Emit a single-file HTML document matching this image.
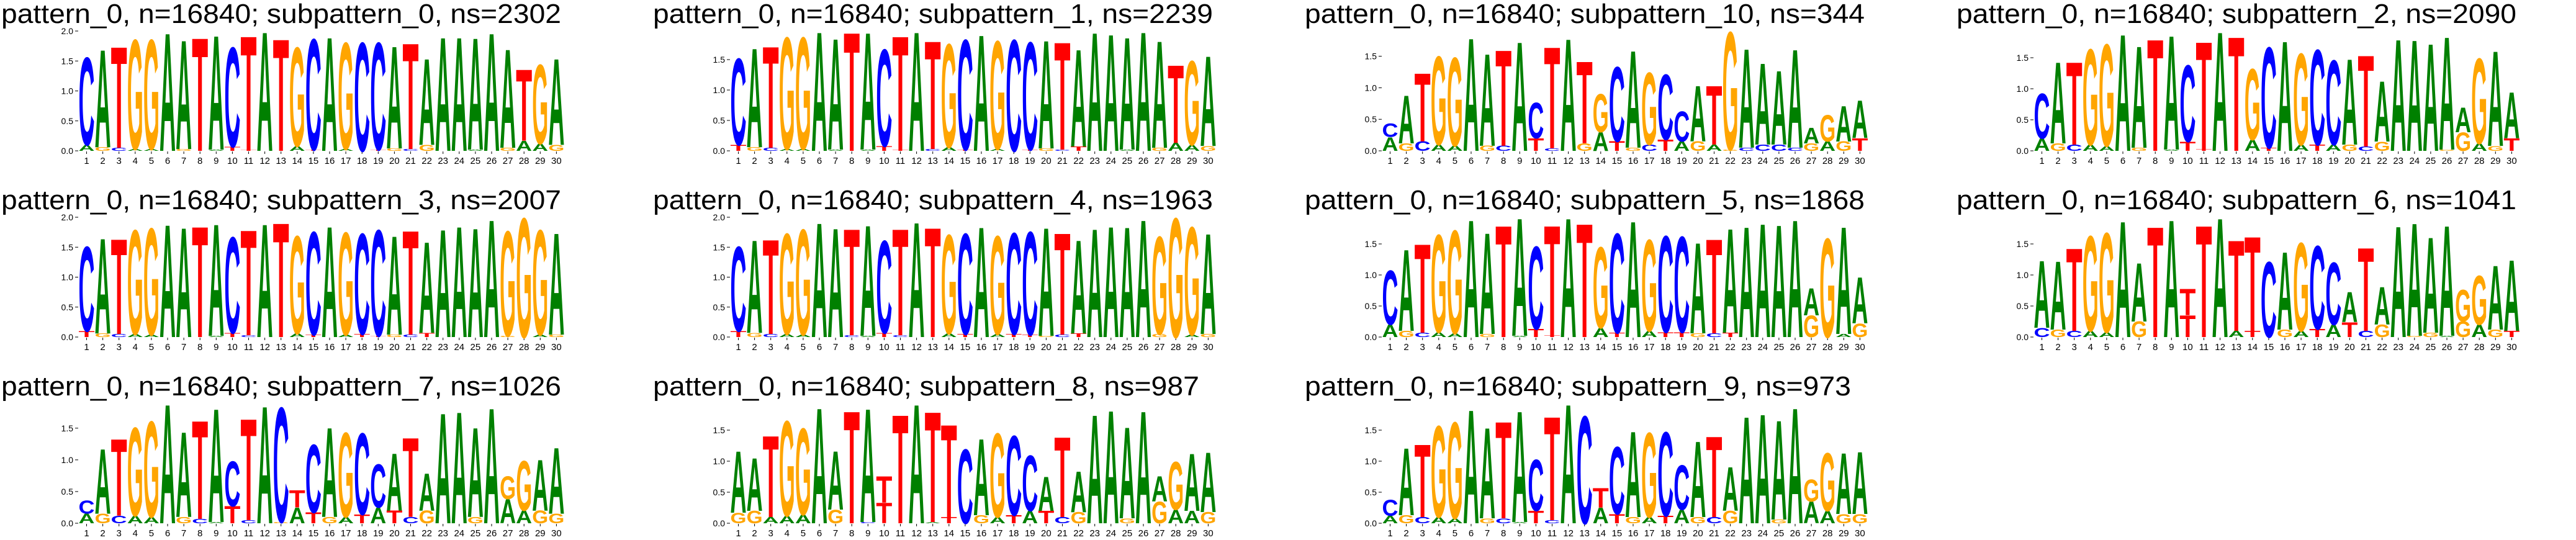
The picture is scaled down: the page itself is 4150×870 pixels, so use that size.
<!DOCTYPE html>
<html><head><meta charset="utf-8"><style>
html,body{margin:0;padding:0;background:#fff;}
svg{display:block;}
text{font-family:"Liberation Sans",sans-serif;}
</style></head><body>
<svg id="chart" width="4150" height="870" viewBox="0 0 4150 870" xmlns="http://www.w3.org/2000/svg"></svg>
<script>
const titles = [
"pattern_0, n=16840; subpattern_0, ns=2302","pattern_0, n=16840; subpattern_1, ns=2239","pattern_0, n=16840; subpattern_10, ns=344","pattern_0, n=16840; subpattern_2, ns=2090",
"pattern_0, n=16840; subpattern_3, ns=2007","pattern_0, n=16840; subpattern_4, ns=1963","pattern_0, n=16840; subpattern_5, ns=1868","pattern_0, n=16840; subpattern_6, ns=1041",
"pattern_0, n=16840; subpattern_7, ns=1026","pattern_0, n=16840; subpattern_8, ns=987","pattern_0, n=16840; subpattern_9, ns=973"];
const mainLetters = [
"CATGGAATACTATGCAGCCATAAAAAATGA",
"CATGGAATACTATGCAGCCATAAAAAATGA",
"CATGGAATACTATGCAGCCATGAAAAAGAA",
"CATGGAATACTATGCAGCCATAAAAAAGAA",
"CATGGAATACTATGCAGCCATAAAAAGGGA",
"CATGGAATACTATGCAGCCATAAAAAGGGA",
"CATGGAATACTATGCAGCCATAAAAAAGAA",
"AATGGAATATTATTCAGCCATAAAAAGGAA",
"CATGGAATACTACTCAGCCATAAAAAGGAA",
"AATGGAATATTATTCAGCCATAAAAAAGAA",
"CATGGAATACTACTCAGCCATAAAAAGGAA"];
const totals = [
[1.57,1.70,1.75,1.87,1.87,1.98,1.86,1.90,1.94,1.74,1.93,2.0,1.88,1.74,1.88,1.91,1.82,1.82,1.82,1.76,1.81,1.55,1.91,1.91,1.90,1.98,1.71,1.37,1.45,1.55],
[1.53,1.70,1.73,1.88,1.88,1.97,1.86,1.96,1.96,1.68,1.90,1.97,1.82,1.77,1.84,1.92,1.82,1.84,1.80,1.83,1.80,1.68,1.96,1.93,1.88,1.97,1.82,1.42,1.49,1.57],
[0.44,0.89,1.24,1.51,1.49,1.80,1.55,1.61,1.74,0.77,1.66,1.79,1.43,0.91,1.34,1.60,1.25,1.22,0.63,1.04,1.04,1.90,1.63,1.40,1.28,1.62,0.37,0.57,0.72,0.80],
[0.93,1.44,1.44,1.65,1.73,1.89,1.70,1.81,1.87,1.39,1.77,1.93,1.85,1.33,1.68,1.78,1.58,1.64,1.47,1.49,1.55,1.13,1.81,1.80,1.74,1.85,0.70,1.50,1.62,0.95],
[1.52,1.66,1.65,1.80,1.83,1.89,1.84,1.86,1.90,1.68,1.80,1.90,1.92,1.70,1.77,1.86,1.76,1.74,1.80,1.70,1.79,1.60,1.81,1.86,1.83,1.97,1.78,2.0,1.80,1.75],
[1.52,1.63,1.64,1.74,1.81,1.92,1.83,1.82,1.88,1.62,1.82,1.93,1.84,1.72,1.74,1.85,1.70,1.75,1.77,1.84,1.75,1.63,1.82,1.86,1.85,1.97,1.69,2.0,1.85,1.74],
[1.08,1.42,1.51,1.66,1.73,1.90,1.69,1.81,1.93,1.47,1.81,1.93,1.84,1.46,1.68,1.88,1.58,1.64,1.63,1.53,1.59,1.76,1.79,1.84,1.82,1.90,0.79,1.60,1.79,0.97],
[1.24,1.23,1.44,1.64,1.69,1.88,1.20,1.79,1.90,0.78,1.81,1.93,1.57,1.63,1.22,1.38,1.53,1.48,1.21,0.73,1.45,0.81,1.80,1.85,1.62,1.81,0.76,0.99,1.16,1.25],
[0.36,1.18,1.34,1.52,1.62,1.89,1.45,1.63,1.82,0.98,1.66,1.86,1.84,0.52,1.25,1.52,1.44,1.43,0.94,1.11,1.36,0.79,1.75,1.77,1.52,1.83,0.74,0.99,1.01,1.20],
[1.17,1.06,1.42,1.66,1.54,1.87,1.17,1.82,1.86,0.76,1.76,1.93,1.81,1.60,1.20,1.37,1.46,1.42,1.10,0.75,1.40,0.84,1.76,1.83,1.56,1.82,0.76,0.99,1.13,1.15],
[0.38,1.22,1.28,1.58,1.64,1.84,1.55,1.65,1.82,1.03,1.73,1.93,1.74,0.57,1.24,1.49,1.47,1.48,0.94,1.33,1.41,0.91,1.73,1.77,1.67,1.87,0.71,1.14,1.14,1.16]];
const secLetters = [
"AGCAA-G-ATT--AT-A-TGCG--A-GAAG",
"TGCAA-A-ATT-CAT-A-TGCT--A-GAAG",
"AGCAA-GC-TC-GATGCTAGAGCCCCGAGT",
"AGCAA-G-ATT--AT-ATAGCG---GGAGT",
"TGCAA---ATC--AT-ATTGCT----G-AG",
"TGCAA--CATC--AT-ATTGCT---GG-AG",
"AGCAA-G-ATT--AT-ATTGCT---GG-AG",
"CGCAA-G-CT-CAT-GATATCG-GGAGAGT",
"AGCAA-GCATC-GATGATATCG--G-AAGG",
"GGAAA-G-CT--AT-GATATCG--G-GAAG",
"AGCAA-GCATC--ATGATAGCG--G-AAGG"];
const secHeights = [
[0.10,0.06,0.05,0.03,0.03,0,0.03,0.02,0.02,0.07,0.02,0,0.02,0.08,0.02,0,0.03,0.05,0.02,0.04,0.03,0.10,0.02,0,0.02,0,0.05,0.17,0.12,0.10],
[0.10,0.06,0.05,0.03,0.03,0,0.02,0.02,0.02,0.08,0.02,0,0.03,0.06,0.02,0,0.03,0.02,0.02,0.04,0.02,0.07,0.02,0,0.02,0,0.05,0.13,0.10,0.08],
[0.22,0.12,0.15,0.10,0.08,0,0.08,0.08,0,0.20,0.04,0,0.12,0.30,0.15,0.05,0.10,0.18,0.15,0.15,0.10,0.02,0.05,0.10,0.10,0.05,0.12,0.15,0.15,0.20],
[0.20,0.12,0.10,0.10,0.08,0,0.05,0.03,0.02,0.15,0.03,0,0.02,0.18,0.05,0.02,0.10,0.10,0.10,0.10,0.07,0.15,0.02,0,0.03,0.02,0.30,0.12,0.08,0.20],
[0.10,0.06,0.05,0.05,0.04,0,0.02,0.02,0.02,0.07,0.03,0,0.02,0.06,0.04,0,0.04,0.05,0.02,0.04,0.04,0.07,0.02,0.02,0.02,0,0.02,0,0.04,0.04],
[0.10,0.07,0.05,0.05,0.04,0,0.02,0.03,0.02,0.07,0.03,0,0.02,0.06,0.05,0,0.05,0.05,0.04,0.02,0.04,0.06,0.02,0.02,0.02,0,0.05,0,0.04,0.05],
[0.20,0.10,0.07,0.08,0.06,0,0.05,0.02,0.02,0.13,0.03,0,0.02,0.15,0.07,0,0.10,0.08,0.08,0.06,0.06,0.07,0.02,0.02,0.02,0,0.35,0.10,0.05,0.22],
[0.15,0.12,0.10,0.10,0.08,0,0.25,0.02,0,0.35,0.02,0,0.10,0.10,0.22,0.12,0.10,0.13,0.20,0.24,0.10,0.20,0.02,0.02,0.07,0.02,0.25,0.20,0.12,0.10],
[0.15,0.15,0.12,0.12,0.10,0,0.10,0.07,0.02,0.27,0.05,0,0.02,0.25,0.17,0.10,0.10,0.14,0.25,0.20,0.10,0.20,0.02,0.02,0.10,0.02,0.38,0.20,0.20,0.15],
[0.17,0.20,0.10,0.12,0.14,0,0.22,0.02,0.02,0.33,0.03,0,0.02,0.10,0.20,0.13,0.10,0.13,0.20,0.20,0.10,0.18,0.02,0.02,0.08,0.02,0.35,0.22,0.20,0.18],
[0.12,0.13,0.10,0.10,0.08,0,0.08,0.08,0.02,0.20,0.05,0,0.02,0.25,0.15,0.10,0.10,0.12,0.22,0.10,0.10,0.20,0.02,0.02,0.06,0.02,0.35,0.20,0.15,0.15]];
const yTicks = [0, 0.5, 1.0, 1.5, 2.0];
const colors = {A:"#008000", C:"#0000ff", G:"#ffa500", T:"#ff0000"};

const NS = "http://www.w3.org/2000/svg";
const svg = document.getElementById('chart');
function mk(tag, attrs, parent){
  const e = document.createElementNS(NS, tag);
  for (const k in attrs) e.setAttribute(k, attrs[k]);
  parent.appendChild(e);
  return e;
}
const CAP = 0.70;
function drawLetter(g, ch, cx, yBottom, hPx){
  if (hPx < 0.6) return;
  const t = mk('text', {x: cx - 13, y: yBottom, 'font-size': (hPx / CAP).toFixed(2), 'font-weight': 'bold',
    fill: colors[ch], textLength: 26, lengthAdjust: 'spacingAndGlyphs'}, g);
  
  
  t.textContent = ch;
}
titles.forEach((title, p) => {
  const col = p % 4, row = Math.floor(p / 4);
  const px = col * 1050, py = row * 300;
  const g = mk('g', {}, svg);
  
  
  const tt = mk('text', {x: px + 2, y: py + 37, 'font-size': 44, fill: '#000', textLength: title.length * 22, lengthAdjust: 'spacingAndGlyphs'}, g);
  
  
  tt.textContent = title;
  const tot = totals[p], sec = secHeights[p];
  const ymax = Math.max(...tot);
  const y0 = py + 243, H = 193;
  const yS = v => y0 - v / ymax * H;
  const xS = i => px + 139.5 + i * 26.1;
  yTicks.forEach(v => {
    if (v > ymax + 1e-9) return;
    const yy = yS(v);
    const lab = mk('text', {x: px + 118, y: yy + 5, 'font-size': 14, 'text-anchor': 'end', fill: '#000'}, g);
    
    
    lab.textContent = v.toFixed(1);
    const tk = mk('line', {x1: px + 121, x2: px + 126, y1: yy, y2: yy, stroke: '#000', 'stroke-width': 1}, g);
    
    
  });
  for (let i = 0; i < 30; i++) {
    const cx = xS(i);
    const tk = mk('line', {x1: cx, x2: cx, y1: y0 + 1, y2: y0 + 5, stroke: '#000', 'stroke-width': 1}, g);
    
    
    const lab = mk('text', {x: cx, y: y0 + 21, 'font-size': 15, 'text-anchor': 'middle', fill: '#000'}, g);
    
    
    lab.textContent = String(i + 1);
    const sl = secLetters[p][i];
    let s = sec[i];
    if (sl === '-') s = 0;
    const mainH = tot[i] - s;
    if (s > 0) drawLetter(g, sl, cx, y0, s / ymax * H);
    drawLetter(g, mainLetters[p][i], cx, yS(s), mainH / ymax * H);
  }
});
</script>
</body></html>
